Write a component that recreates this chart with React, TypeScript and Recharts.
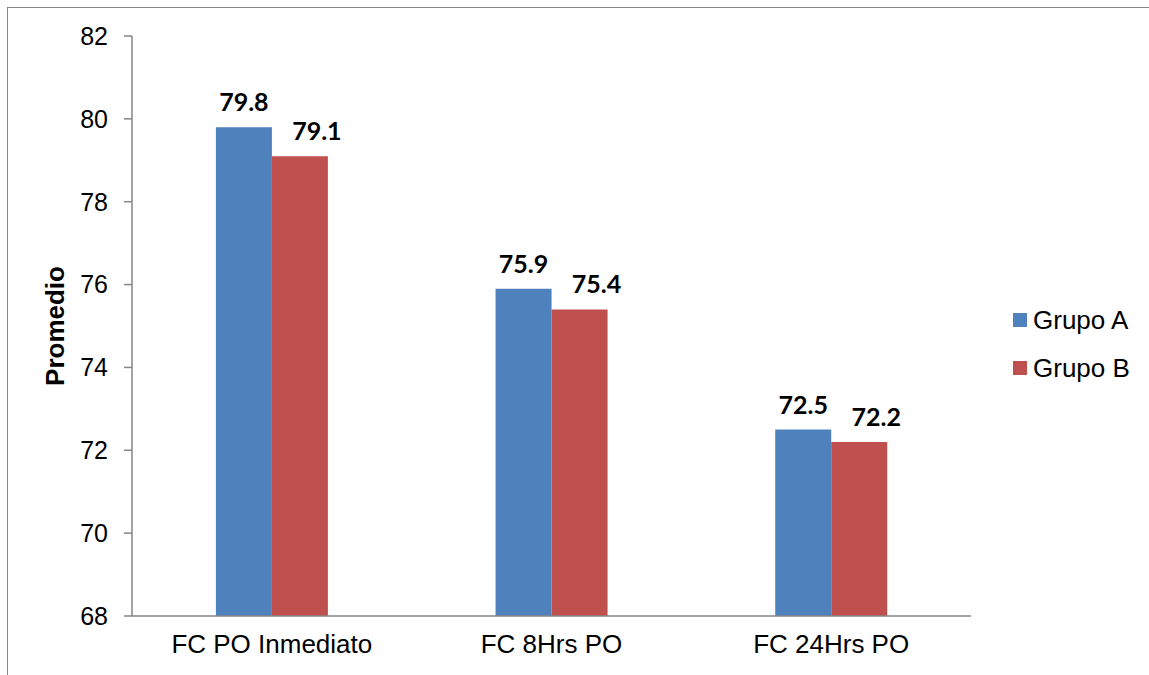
import { BarChart, Bar, XAxis, YAxis, Legend, LabelList } from "recharts";

const categories = ["FC PO Inmediato", "FC 8Hrs PO", "FC 24Hrs PO"];
const grupoA = [79.8, 75.9, 72.5];
const grupoB = [79.1, 75.4, 72.2];
const yTicks = [68, 70, 72, 74, 76, 78, 80, 82];

const data = categories.map((name, i) => ({ name, grupoA: grupoA[i], grupoB: grupoB[i] }));

const AXIS = "#868686";
const ARIAL = "'Liberation Sans', Arial, sans-serif";
const VALUE_FONT = "Lato, 'Open Sans', sans-serif";

// rotated axis title, centred on the plot height
function YTitle({ viewBox }: any) {
  const cy = viewBox.y + viewBox.height / 2;
  return (
    <text
      x={55}
      y={cy}
      transform={`rotate(-90, 55, ${cy})`}
      textAnchor="middle"
      dominantBaseline="central"
      style={{ fontFamily: ARIAL, fontWeight: "bold", fontSize: 26 }}
      fill="#000"
    >
      Promedio
    </text>
  );
}

function LegendBox({ payload }: any) {
  return (
    <div style={{ fontFamily: ARIAL, fontSize: 26 }}>
      {payload.map((p: any) => (
        <div key={p.value} style={{ display: "flex", alignItems: "center", height: 48 }}>
          <span style={{ width: 14, height: 14, background: p.color, marginRight: 6, display: "inline-block" }} />
          <span>{p.value}</span>
        </div>
      ))}
    </div>
  );
}

export default function App() {
  return (
    <div style={{ position: "absolute", left: 0, top: 0, width: 1149, height: 675, background: "#fff" }}>
      <div
        style={{
          position: "absolute",
          left: 7,
          top: 7,
          right: 0,
          bottom: 0,
          borderTop: `1px solid ${AXIS}`,
          borderLeft: `1px solid ${AXIS}`,
        }}
      />
      <BarChart
        width={1149}
        height={675}
        data={data}
        margin={{ top: 36, right: 178, bottom: 0, left: 0 }}
        barCategoryGap="30%"
        barGap={0}
      >
        <XAxis
          dataKey="name"
          height={59}
          tickLine={false}
          tickSize={0}
          tickMargin={19}
          axisLine={{ stroke: AXIS, strokeWidth: 1.5 }}
          tick={{ fill: "#000", fontSize: 26, fontFamily: ARIAL }}
        />
        <YAxis
          width={132}
          domain={[68, 82]}
          ticks={yTicks}
          interval={0}
          allowDataOverflow
          tickSize={8}
          tickMargin={16}
          tickLine={{ stroke: AXIS, strokeWidth: 1.5 }}
          axisLine={{ stroke: AXIS, strokeWidth: 1.5 }}
          tick={{ fill: "#000", fontSize: 25, fontFamily: ARIAL }}
          label={{ content: YTitle }}
        />
        <Legend
          layout="vertical"
          align="center"
          verticalAlign="middle"
          content={LegendBox}
          wrapperStyle={{ left: 1013, top: 296, width: 136 }}
        />
        <Bar dataKey="grupoA" name="Grupo A" fill="#4F81BD" isAnimationActive={false}>
          <LabelList
            dataKey="grupoA"
            position="top"
            offset={16}
            fill="#000"
            fontSize={25}
            fontWeight="bold"
            fontFamily={VALUE_FONT}
          />
        </Bar>
        <Bar dataKey="grupoB" name="Grupo B" fill="#C0504D" isAnimationActive={false}>
          {/* nudged right so it clears the neighbouring label */}
          <LabelList
            dataKey="grupoB"
            position="top"
            offset={16}
            dx={17}
            fill="#000"
            fontSize={25}
            fontWeight="bold"
            fontFamily={VALUE_FONT}
          />
        </Bar>
      </BarChart>
    </div>
  );
}
